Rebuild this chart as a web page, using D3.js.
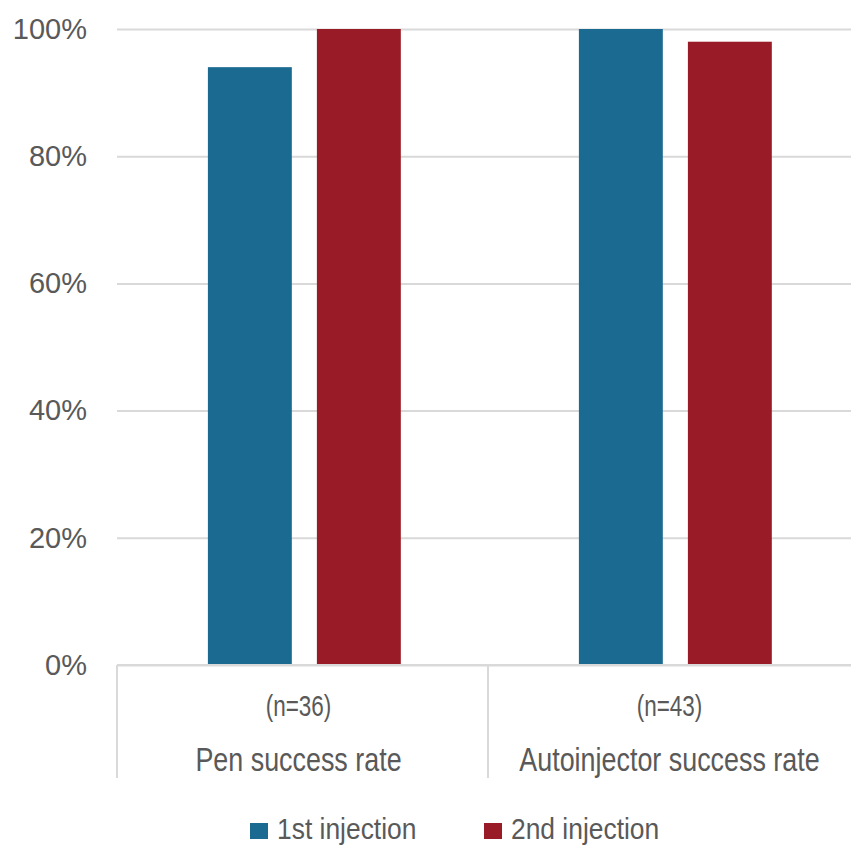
<!DOCTYPE html>
<html>
<head>
<meta charset="utf-8">
<script src="https://cdn.jsdelivr.net/npm/d3@7"></script>
<style>
  html, body { margin: 0; padding: 0; background: #fff; }
  svg { display: block; }
</style>
</head>
<body>
<svg id="chart" width="851" height="847"></svg>
<script>
const categories = ["Pen success rate", "Autoinjector success rate"];
const sampleSizes = ["(n=36)", "(n=43)"];
const seriesNames = ["1st injection", "2nd injection"];
const firstInjection = [94, 100];
const secondInjection = [100, 98];
const yTicks = [0, 20, 40, 60, 80, 100];
const colors = ["#1b6a92", "#981b27"];

const svg = d3.select("#chart");
const mLeft = 117, mRight = 859, mTop = 29, mBottom = 665;
const baseFont = "'Liberation Sans', Arial, sans-serif";

const x0 = d3.scaleBand().domain(categories).range([mLeft, mRight]).padding(0);
const x1 = d3.scaleBand().domain(seriesNames)
  .range([x0.bandwidth() * 0.245, x0.bandwidth() * 0.765]).paddingInner(0.23).paddingOuter(0);
const y = d3.scaleLinear().domain([0, 100]).range([mBottom, mTop]);

// gridlines + y labels
const yAxis = d3.axisLeft(y).tickValues(yTicks).tickFormat(d => d + "%")
  .tickSizeInner(-(851 - mLeft)).tickSizeOuter(0).tickPadding(30);
const ga = svg.append("g").attr("transform", `translate(${mLeft},0)`).call(yAxis);
ga.select(".domain").remove();
ga.selectAll(".tick line").attr("stroke", "#d9d9d9").attr("stroke-width", 2);
ga.selectAll(".tick text")
  .attr("fill", "#595959")
  .style("font-family", baseFont)
  .style("font-size", "29px");

// bars
const data = categories.map((c, i) => ({ cat: c, vals: [firstInjection[i], secondInjection[i]] }));
const groups = svg.append("g").selectAll("g").data(data).join("g")
  .attr("transform", d => `translate(${x0(d.cat)},0)`);
groups.selectAll("rect").data(d => d.vals.map((v, j) => ({ s: seriesNames[j], v, j })))
  .join("rect")
  .attr("x", d => x1(d.s))
  .attr("width", x1.bandwidth())
  .attr("y", d => y(d.v))
  .attr("height", d => y(0) - y(d.v))
  .attr("fill", d => colors[d.j]);

// x axis dividers
const dividers = categories.map(c => x0(c));
svg.append("g").selectAll("line").data(dividers).join("line")
  .attr("x1", d => d).attr("x2", d => d)
  .attr("y1", mBottom).attr("y2", 778)
  .attr("stroke", "#d9d9d9").attr("stroke-width", 2);
svg.append("line").attr("x1", mLeft).attr("x2", 851).attr("y1", mBottom).attr("y2", mBottom)
  .attr("stroke", "#d9d9d9").attr("stroke-width", 2);

// category labels (condensed look via horizontal scale)
categories.forEach((c, i) => {
  const cx = x0(c) + x0.bandwidth() / 2 - 4;
  svg.append("g").attr("transform", `translate(${cx},716) scale(0.75,1)`)
    .append("text").attr("text-anchor", "middle")
    .attr("fill", "#595959").style("font-family", baseFont).style("font-size", "30px")
    .text(sampleSizes[i]);
  svg.append("g").attr("transform", `translate(${cx},771) scale(0.815,1)`)
    .append("text").attr("text-anchor", "middle")
    .attr("fill", "#595959").style("font-family", baseFont).style("font-size", "33px")
    .text(c);
});

// legend
const legendX = [250, 484];
const lg = svg.append("g").selectAll("g").data(seriesNames).join("g")
  .attr("transform", (d, i) => `translate(${legendX[i]},0)`);
lg.append("rect").attr("x", 0).attr("y", 823).attr("width", 18).attr("height", 16)
  .attr("fill", (d, i) => colors[i]);
lg.append("g").attr("transform", "translate(27,839) scale(0.88,1)")
  .append("text")
  .attr("fill", "#595959").style("font-family", baseFont).style("font-size", "30px")
  .text(d => d);
</script>
</body>
</html>
